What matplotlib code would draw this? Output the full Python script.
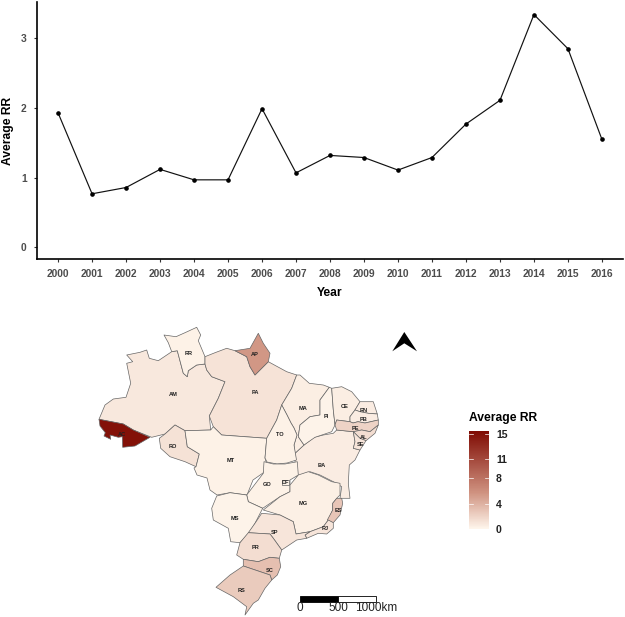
import numpy as np
import matplotlib
matplotlib.use('Agg')
import matplotlib.pyplot as plt
from matplotlib.colors import LinearSegmentedColormap, Normalize
from matplotlib.cm import ScalarMappable
from matplotlib.patches import Polygon, Rectangle

plt.rcParams['font.family'] = ['Liberation Sans', 'DejaVu Sans']

W, H = 625, 617

years = list(range(2000, 2017))
average_rr = [1.93, 0.77, 0.86, 1.12, 0.97, 0.97, 1.99, 1.07, 1.32, 1.29,
              1.11, 1.29, 1.77, 2.11, 3.34, 2.85, 1.55]

# state values
state_rr = {'AC': 15.0, 'AM': 0.8, 'RR': 0.3, 'PA': 1.1, 'AP': 5.5, 'RO': 1.2, 'MT': 0.3,
            'TO': 0.3, 'GO': 0.3, 'DF': 0.2, 'MS': 0.2, 'MG': 0.4, 'ES': 2.8, 'RJ': 1.0,
            'SP': 1.0, 'PR': 1.5, 'SC': 3.2, 'RS': 2.5, 'BA': 0.6, 'MA': 0.5, 'PI': 0.2,
            'CE': 0.5, 'RN': 0.6, 'PB': 0.6, 'PE': 2.0, 'AL': 1.5, 'SE': 1.0}

state_outlines = {
    'AM': [(99,419.3),(105,405),(113.3,399),(126,397.3),(130.7,383.3),(126.7,363.3),(132.7,361.7),(126.7,355),(140,352.3),(146.7,350),(149.3,358.3),(158.3,360.7),(171.7,351.7),(177.3,350.7),(183.3,373.3),(187.3,376.7),(188.3,370.7),(196.7,365),(205,364),(206.7,370),(211.7,376.7),(225,381.7),(218.3,398.3),(209.3,416),(210.7,430),(185,430.7),(175,425),(165,434),(151.7,437.3),(133.3,430),(123.3,424)],
    'AC': [(99,419.3),(123.3,424),(133.3,430),(150,437.3),(135,446),(122.7,447.3),(122.3,436.7),(118.3,437.3),(110,435),(110.7,439.3),(104,436),(105.3,432.7),(100,426)],
    'RR': [(164,335),(176,336.7),(185,332.7),(196.7,327.3),(200.7,335),(198.3,340.7),(205,356.7),(205,364),(196.7,365),(188.3,370.7),(187.3,376.7),(183.3,373.3),(177.3,350.7),(171.7,351.7),(168.3,342.7)],
    'PA': [(205,356.7),(215,352.7),(226.7,348.3),(235,350.7),(246.7,356.7),(250,366.7),(255,375),(268.3,361.7),(286.7,371.7),(296.7,375),(291.7,388.3),(281.7,405),(276.7,420),(266.7,438.3),(221.7,435),(213.3,426.7),(209.3,416),(218.3,398.3),(225,381.7),(211.7,376.7),(206.7,370),(205,364)],
    'AP': [(258.3,333.3),(263.3,343.3),(270,353.3),(268.3,361.7),(255,375),(250,366.7),(246.7,356.7),(235,350.7),(250,348.3)],
    'RO': [(159.3,438.3),(165,434),(175,425),(185,430.7),(187.3,446.7),(199.3,454),(196,466.7),(185,461.7),(170,456.7),(160.7,448.3)],
    'MT': [(185,430.7),(210.7,430),(213.3,426.7),(221.7,435),(266.7,438.3),(265,458),(267,465),(263,473),(253,480),(247,495),(230,492.7),(217,495),(210,490),(207,478),(197,475),(194,468),(196,466.7),(199.3,454),(187.3,446.7)],
    'BA': [(304,445),(314,437.3),(323.3,435),(333.3,433.3),(336.7,430),(353.3,431.7),(355,441.7),(353.3,448.3),(360,450),(355,460),(349.3,465),(348.3,483.3),(350,498.3),(340,498.3),(341.7,486.7),(333.3,481.7),(320,475),(310,471.7),(296.7,476.7),(295,463.3),(295,453.3)],
    'MA': [(296.7,375),(300,375),(309.3,383.3),(323.3,385),(329.3,387.3),(320,400),(320,415),(310,416.7),(300,425),(298.3,436.7),(304,445),(295,453.3),(294,445),(297,435),(294,428),(291,423),(287,415),(281.7,405),(291.7,388.3)],
    'TO': [(281.7,405),(287,415),(291,423),(294,428),(297,435),(294,445),(296.5,460),(287,463),(277,464),(267,462),(265,458),(266.7,438.3),(276.7,420)],
    'GO': [(264,461.7),(273.3,464),(285,464),(297.3,461.7),(298.3,475),(290,480),(290,491.7),(280,496.7),(262.7,508.3),(248.3,501.7),(246.7,495),(263.3,473.3)],
    'DF': [(282.3,480),(289.3,480),(289.3,485),(282.3,485)],
    'MS': [(216.7,496),(230,492.7),(246.7,495),(248.3,501.7),(262.7,508.3),(255,523.3),(249.3,532.7),(240,542.7),(230.7,541.7),(228.3,528.3),(213.3,520),(211.7,508.3)],
    'MG': [(263.3,510),(280,496.7),(290,491.7),(290,485),(298.3,475),(308.3,471.7),(318.3,475),(331.7,481.7),(340,483.3),(340,495),(336.7,498.3),(332.7,503.3),(332.7,510),(328.3,520),(323.3,526.7),(310,531.7),(296,534),(293.3,521.7),(280,515)],
    'ES': [(332.7,503.3),(336.7,498.3),(341.7,498.3),(342.7,503.3),(340,515),(333.3,522.7),(327.3,520),(332.7,510)],
    'RJ': [(323.3,526.7),(328.3,520),(333.3,522.7),(333.3,528.3),(326.7,534),(318.3,533.3),(306.7,538.3),(305,535),(310,531.7)],
    'SP': [(261.7,513.3),(280,515),(293.3,521.7),(296,534),(310,531.7),(305,535),(306.7,538.3),(296.7,540),(281.7,550),(273.3,538.3),(270,534),(248.3,532.7),(255,523.3)],
    'PR': [(240,542.7),(248.3,532.7),(270,534),(273.3,538.3),(281.7,550),(279.3,558.3),(270,557.3),(258.3,561.7),(243.3,559.3),(236.7,555)],
    'SC': [(243.3,559.3),(258.3,561.7),(270,557.3),(279.3,558.3),(280.7,566.7),(277.3,575),(271.7,580),(270,575),(243.3,566)],
    'RS': [(243.3,566),(270,575),(271.7,580),(265,588.3),(258.3,600),(253.3,603.3),(245,615),(246.7,606.7),(233.3,596.7),(216,587.3),(230,575)],
    'PI': [(329.3,387.3),(331.7,388.3),(333.3,410),(335,425),(331.7,431.7),(315,437.3),(304,445),(298.3,436.7),(300,425),(310,416.7),(320,415),(320,400)],
    'CE': [(331.7,388.3),(341.7,386.7),(351.7,391.7),(360,401.7),(355,410),(350,416.7),(350,421.7),(336.7,420),(335,425),(333.3,410)],
    'RN': [(360,401.7),(373.3,401.7),(377.3,414),(368.3,413.3),(360,411.7),(355,410)],
    'PB': [(350,416.7),(355,410),(360,411.7),(368.3,413.3),(377.3,414),(378.3,420),(365,423),(358,421.7),(353,423),(350,421.7)],
    'PE': [(335,425),(336.7,420),(350,421.7),(353,423),(358,421.7),(365,423),(378.3,420),(378.3,425),(370,431.7),(361.7,430),(353.3,431.7),(336.7,430)],
    'AL': [(353.3,431.7),(361.7,430),(370,431.7),(378.3,425),(375,433.3),(366,440.7),(360,438.3)],
    'SE': [(355,441.7),(353.3,431.7),(360,438.3),(366,440.7),(360,450),(353.3,448.3)],
}

state_label_pos = {'RR': (189,353.3), 'AP': (254.3,354.7), 'AM': (173.3,394), 'PA': (255,393),
                   'AC': (121.7,434), 'RO': (173.3,446.3), 'MT': (231,460.3), 'TO': (279.7,435),
                   'MA': (302.7,408), 'PI': (326.7,416.7), 'CE': (345,406), 'RN': (364,410),
                   'PB': (364,419.3), 'PE': (355,428.3), 'AL': (363.3,437.3), 'SE': (360.7,444.7),
                   'BA': (322,465.3), 'MG': (303,503.3), 'ES': (338,510.7), 'GO': (267.3,484),
                   'DF': (285.3,482.7), 'MS': (235,518.3), 'SP': (275,532.3), 'RJ': (325,528.7),
                   'PR': (256,547.7), 'SC': (269.7,570), 'RS': (241.7,590)}

legend_ticks = [0, 4, 8, 11, 15]

north_arrow = [(404.3,332), (417,351.3), (404.3,343.3), (392.3,351.3)]

cmap = LinearSegmentedColormap.from_list('rr', [(0, '#FFF6EC'), (0.37, '#CF9280'), (1, '#7F0A02')])
norm = Normalize(0, 15.5)

fig = plt.figure(figsize=(W / 100, H / 100), dpi=100)


def px_axes(x0, y0, x1, y1):
    # axes from picture pixels, y counted from the top
    return fig.add_axes([x0 / W, 1 - y1 / H, (x1 - x0) / W, (y1 - y0) / H])


# line chart
ax = px_axes(37, 2, 623, 258.5)
ax.plot(years, average_rr, color='#111111', lw=0.85, marker='o', ms=2.3, mfc='k', mec='k')
ax.set_xlim(1999.38, 2016.62)
ax.set_ylim(-0.158, 3.52)
ax.set_xticks(years)
ax.set_yticks([0, 1, 2, 3])
ax.spines[['top', 'right']].set_visible(False)
ax.spines[['left', 'bottom']].set_linewidth(1.2)
ax.tick_params(length=2.5, width=0.8, color='#333333', labelcolor='#4D4D4D', labelsize=7.4, pad=5)
for lab in ax.get_xticklabels() + ax.get_yticklabels():
    lab.set_fontweight('bold')
ax.set_xlabel('Year', fontsize=8.7, fontweight='bold', labelpad=6)
ax.set_ylabel('Average RR', fontsize=8.7, fontweight='bold')
ax.yaxis.set_label_coords(-0.0385, 0.497)

# map, drawn in picture pixels
mp = px_axes(0, 0, W, H)
mp.set_xlim(0, W)
mp.set_ylim(H, 0)
mp.axis('off')
mp.patch.set_alpha(0)
for code, outline in state_outlines.items():
    mp.add_patch(Polygon(outline, closed=True, facecolor=cmap(norm(state_rr[code])),
                         edgecolor='#666666', lw=0.5, joinstyle='round'))
for code, (x, y) in state_label_pos.items():
    mp.text(x, y, code, fontsize=4.1, fontweight='bold', color='#222222', ha='center', va='center')

mp.add_patch(Polygon(north_arrow, closed=True, facecolor='k', edgecolor='none'))

# scale bar
mp.add_patch(Rectangle((300, 595.7), 38, 6, facecolor='k', edgecolor='k', lw=0.6))
mp.add_patch(Rectangle((338, 595.7), 38, 6, facecolor='w', edgecolor='k', lw=0.6))
for x, s in [(300, '0'), (338, '500'), (376, '1000km')]:
    mp.text(x, 608, s, fontsize=8.5, color='#222222', ha='center', va='center')

# legend
mp.text(469, 418.5, 'Average RR', fontsize=8.7, fontweight='bold', ha='left', va='center')
cax = px_axes(469, 430.7, 489, 529)
cb = fig.colorbar(ScalarMappable(norm=norm, cmap=cmap), cax=cax, ticks=legend_ticks)
cb.outline.set_visible(False)
cb.ax.tick_params(length=0, labelsize=7.6, pad=5, labelcolor='#222222')
for lab in cb.ax.get_yticklabels():
    lab.set_fontweight('bold')
for t in legend_ticks:
    cb.ax.plot([0, 0.2], [t, t], color='w', lw=0.5, transform=cb.ax.get_yaxis_transform())
    cb.ax.plot([0.8, 1], [t, t], color='w', lw=0.5, transform=cb.ax.get_yaxis_transform())

fig.savefig('out.png', dpi=100, facecolor='w')
